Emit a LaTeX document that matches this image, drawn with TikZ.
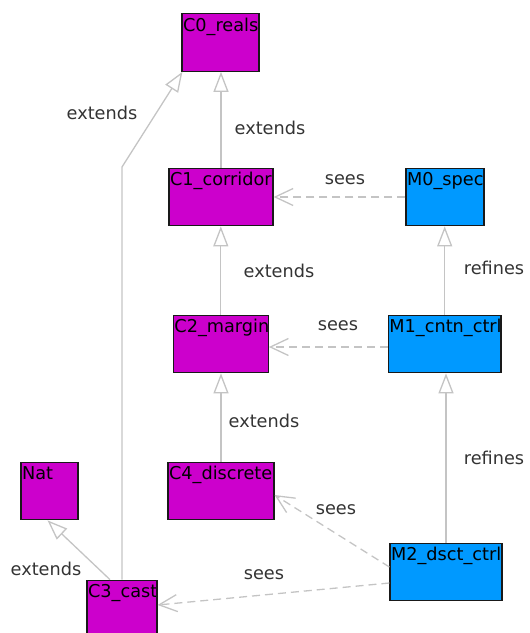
\documentclass[tikz,border=0pt]{standalone}
\usepackage{fontspec}
\setmainfont{DejaVu Sans}
\usetikzlibrary{arrows.meta}

\definecolor{ctxfill}{HTML}{CC00CC}
\definecolor{machfill}{HTML}{0099FF}
\definecolor{linkgray}{HTML}{C4C4C4}
\definecolor{labelgray}{HTML}{333333}

\tikzset{
  box/.style={rectangle, draw=black!90, line width=1.2pt, inner sep=0pt,
    minimum height=57.5pt,
    path picture={\node[anchor=base west, inner sep=0pt, text=black,
        minimum width=0pt, minimum height=0pt, draw=none, fill=none]
      at ([shift={(0.5pt,-17.5pt)}]path picture bounding box.north west) {#1};}},
  ctx/.style={box=#1, fill=ctxfill},
  mach/.style={box=#1, fill=machfill},
  ext/.style={draw=linkgray, line width=1.3pt,
    -{Triangle[length=20pt, width=15pt, fill=white]}},
  seesto/.style={draw=linkgray, line width=1.3pt, dash pattern=on 8pt off 5pt,
    -{Straight Barb[length=18pt, width=17pt]}},
  lbl/.style={text=labelgray, inner sep=0pt}
}

\begin{document}
\begin{tikzpicture}[x=1pt, y=1pt, font=\fontsize{17.7}{20}\selectfont]
\useasboundingbox (0,0) rectangle (530,-633);

% contexts
\node[ctx={C0\_reals},     minimum width=77pt]  (c0)  at (220.5,-42.5) {};
\node[ctx={C1\_corridor},  minimum width=104pt] (c1)  at (221,-197) {};
\node[ctx={C2\_margin},    minimum width=95pt]  (c2)  at (220.8,-344) {};
\node[ctx={C4\_discrete},  minimum width=106pt] (c4)  at (221,-491) {};
\node[ctx={Nat},           minimum width=57pt]  (nat) at (49.5,-491) {};
\node[ctx={C3\_cast},      minimum width=70pt]  (c3)  at (122,-609) {};

% machines
\node[mach={M0\_spec},      minimum width=78pt]  (m0) at (445,-197) {};
\node[mach={M1\_cntn\_ctrl}, minimum width=112.7pt] (m1) at (444.7,-344) {};
\node[mach={M2\_dsct\_ctrl}, minimum width=112pt] (m2) at (446,-572) {};

% extends
\draw[ext] (c1.north) -- (c1.north |- c0.south);
\coordinate (bend3) at (c3.north |- 0,-167);
\draw[ext] (c3.north) -- (bend3) -- ([xshift=1pt]c0.south west);
\draw[ext] (c2.north) -- (c2.north |- c1.south);
\draw[ext] (c4.north) -- (c4.north |- c2.south);
\draw[ext] ([xshift=-12pt]c3.north) -- ([xshift=-2pt]nat.south);

% refines
\draw[ext] (m1.north) -- (m1.north |- m0.south);
\draw[ext] (m2.north) -- (m2.north |- m1.south);

% sees
\draw[seesto] (m0.west) -- (c1.east);
\draw[seesto] ([yshift=-3pt]m1.west) -- ([yshift=-3pt]c2.east);
\draw[seesto] ([yshift=5pt]m2.west) -- ([yshift=-4pt]c4.east);
\draw[seesto] ([yshift=-11pt]m2.west) -- ([yshift=4pt]c3.east);

% labels
\node[lbl] (l1)  at (102,-113) {extends};
\node[lbl] (l2)  at (270,-128) {extends};
\node[lbl] (l3)  at (345,-180) {sees};
\node[lbl] (l4)  at (494,-268) {refines};
\node[lbl] (l5)  at (279,-271) {extends};
\node[lbl] (l6)  at (338,-326) {sees};
\node[lbl] (l7)  at (264,-421) {extends};
\node[lbl] (l8)  at (494,-458) {refines};
\node[lbl] (l9)  at (336,-510) {sees};
\node[lbl] (l10) at (264,-575) {sees};
\node[lbl] (l11) at (46,-569)  {extends};
\end{tikzpicture}
\end{document}
